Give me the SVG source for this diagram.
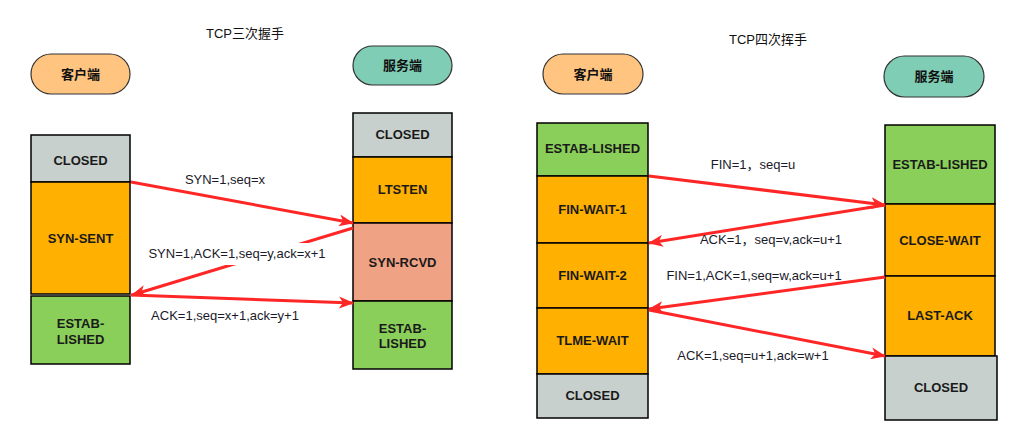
<svg xmlns="http://www.w3.org/2000/svg" width="1012" height="437" viewBox="0 0 1012 437">
<style>
.box{stroke:#000;stroke-width:1.5}
.gray{fill:#C8D0CE}.org{fill:#FFB000}.grn{fill:#8ACF5A}.sal{fill:#F0A284}
.pc{fill:#FFC580;stroke:#333;stroke-width:1.2}.ps{fill:#7FCDB5;stroke:#333;stroke-width:1.2}
.st{font-family:"Liberation Sans",Arial,sans-serif;font-weight:bold;font-size:13px;fill:#1a1a1a;text-anchor:middle;dominant-baseline:central}
.pt{font-family:"Liberation Sans","Noto Sans CJK SC",sans-serif;font-weight:bold;font-size:13px;fill:#111;text-anchor:middle;dominant-baseline:central}
.tt{font-family:"Liberation Sans","Noto Sans CJK SC",sans-serif;font-size:13px;fill:#111;text-anchor:middle;dominant-baseline:central}
.lb{font-family:"Liberation Sans","Noto Sans CJK SC",sans-serif;font-size:13px;fill:#1a1a2a;text-anchor:middle;dominant-baseline:central}
.ar{stroke:#FF2626;stroke-width:3;fill:none;marker-end:url(#ah)}
</style>
<defs>
<marker id="ah" markerUnits="userSpaceOnUse" markerWidth="16" markerHeight="12" refX="14" refY="6" orient="auto">
<path d="M0,0 L15,6 L0,12 L4,6 z" fill="#FF2626"/>
</marker>
</defs>
<rect width="1012" height="437" fill="#fff"/>
<text class="tt" x="245" y="33">TCP三次握手</text>
<text class="tt" x="768" y="39">TCP四次挥手</text>

<g id="left-client-pill"><rect class="pc" x="31" y="54" width="99" height="40" rx="20"/><text class="pt" x="80.5" y="74">客户端</text></g>
<g id="left-server-pill"><rect class="ps" x="353" y="46" width="99" height="39" rx="19.5"/><text class="pt" x="402.5" y="65.5">服务端</text></g>

<g id="lc-closed"><rect class="box gray" x="31" y="135" width="99" height="47"/><text class="st" x="80.5" y="160">CLOSED</text></g>
<g id="lc-synsent"><rect class="box org" x="31" y="182" width="99" height="112"/><text class="st" x="80.5" y="238">SYN-SENT</text></g>
<g id="lc-estab"><rect class="box grn" x="31" y="296" width="99" height="68"/><text class="st" x="80.5" y="323">ESTAB-</text><text class="st" x="80.5" y="339">LISHED</text></g>

<g id="ls-closed"><rect class="box gray" x="353" y="113" width="99" height="44"/><text class="st" x="402.5" y="134">CLOSED</text></g>
<g id="ls-listen"><rect class="box org" x="353" y="157" width="99" height="66"/><text class="st" x="402.5" y="189">LTSTEN</text></g>
<g id="ls-synrcvd"><rect class="box sal" x="353" y="223" width="99" height="78"/><text class="st" x="402.5" y="262">SYN-RCVD</text></g>
<g id="ls-estab"><rect class="box grn" x="353" y="301" width="99" height="68"/><text class="st" x="402.5" y="328">ESTAB-</text><text class="st" x="402.5" y="343">LISHED</text></g>

<g id="right-client-pill"><rect class="pc" x="543" y="54" width="100" height="40" rx="20"/><text class="pt" x="593" y="74">客户端</text></g>
<g id="right-server-pill"><rect class="ps" x="884" y="56" width="100" height="41" rx="20.5"/><text class="pt" x="934" y="76.5">服务端</text></g>

<g id="rc-estab"><rect class="box grn" x="537" y="123" width="111" height="53"/><text class="st" x="592.5" y="148">ESTAB-LISHED</text></g>
<g id="rc-fw1"><rect class="box org" x="537" y="176" width="111" height="67"/><text class="st" x="592.5" y="209">FIN-WAIT-1</text></g>
<g id="rc-fw2"><rect class="box org" x="537" y="243" width="111" height="65"/><text class="st" x="592.5" y="275">FIN-WAIT-2</text></g>
<g id="rc-tw"><rect class="box org" x="537" y="308" width="111" height="66"/><text class="st" x="592.5" y="340">TLME-WAIT</text></g>
<g id="rc-closed"><rect class="box gray" x="537" y="374" width="111" height="44"/><text class="st" x="592.5" y="395">CLOSED</text></g>

<g id="rs-estab"><rect class="box grn" x="885" y="125" width="110" height="79"/><text class="st" x="940" y="164">ESTAB-LISHED</text></g>
<g id="rs-cw"><rect class="box org" x="885" y="204" width="110" height="72"/><text class="st" x="940" y="240">CLOSE-WAIT</text></g>
<g id="rs-la"><rect class="box org" x="885" y="276" width="110" height="80"/><text class="st" x="940" y="315">LAST-ACK</text></g>
<g id="rs-closed"><rect class="box gray" x="885" y="356" width="112" height="64"/><text class="st" x="941" y="387">CLOSED</text></g>

<g id="connectors">
<line class="ar" x1="131" y1="182" x2="353" y2="223"/>
<line class="ar" x1="353" y1="228" x2="132" y2="295"/>
<line class="ar" x1="131" y1="295" x2="353" y2="303"/>
<line class="ar" x1="649" y1="176" x2="885" y2="205"/>
<line class="ar" x1="885" y1="205" x2="649" y2="243"/>
<line class="ar" x1="885" y1="277" x2="649" y2="309"/>
<line class="ar" x1="649" y1="310" x2="885" y2="356"/>
</g>
<g id="labels">
<text class="lb" x="225" y="179">SYN=1,seq=x</text>
<rect x="143" y="243" width="187" height="22" fill="#fff"/>
<text class="lb" x="237" y="253">SYN=1,ACK=1,seq=y,ack=x+1</text>
<text class="lb" x="225" y="315">ACK=1,seq=x+1,ack=y+1</text>
<text class="lb" x="753" y="164">FIN=1，seq=u</text>
<text class="lb" x="771" y="239">ACK=1，seq=v,ack=u+1</text>
<text class="lb" x="754" y="275">FIN=1,ACK=1,seq=w,ack=u+1</text>
<text class="lb" x="753" y="355">ACK=1,seq=u+1,ack=w+1</text>
</g>
</svg>
